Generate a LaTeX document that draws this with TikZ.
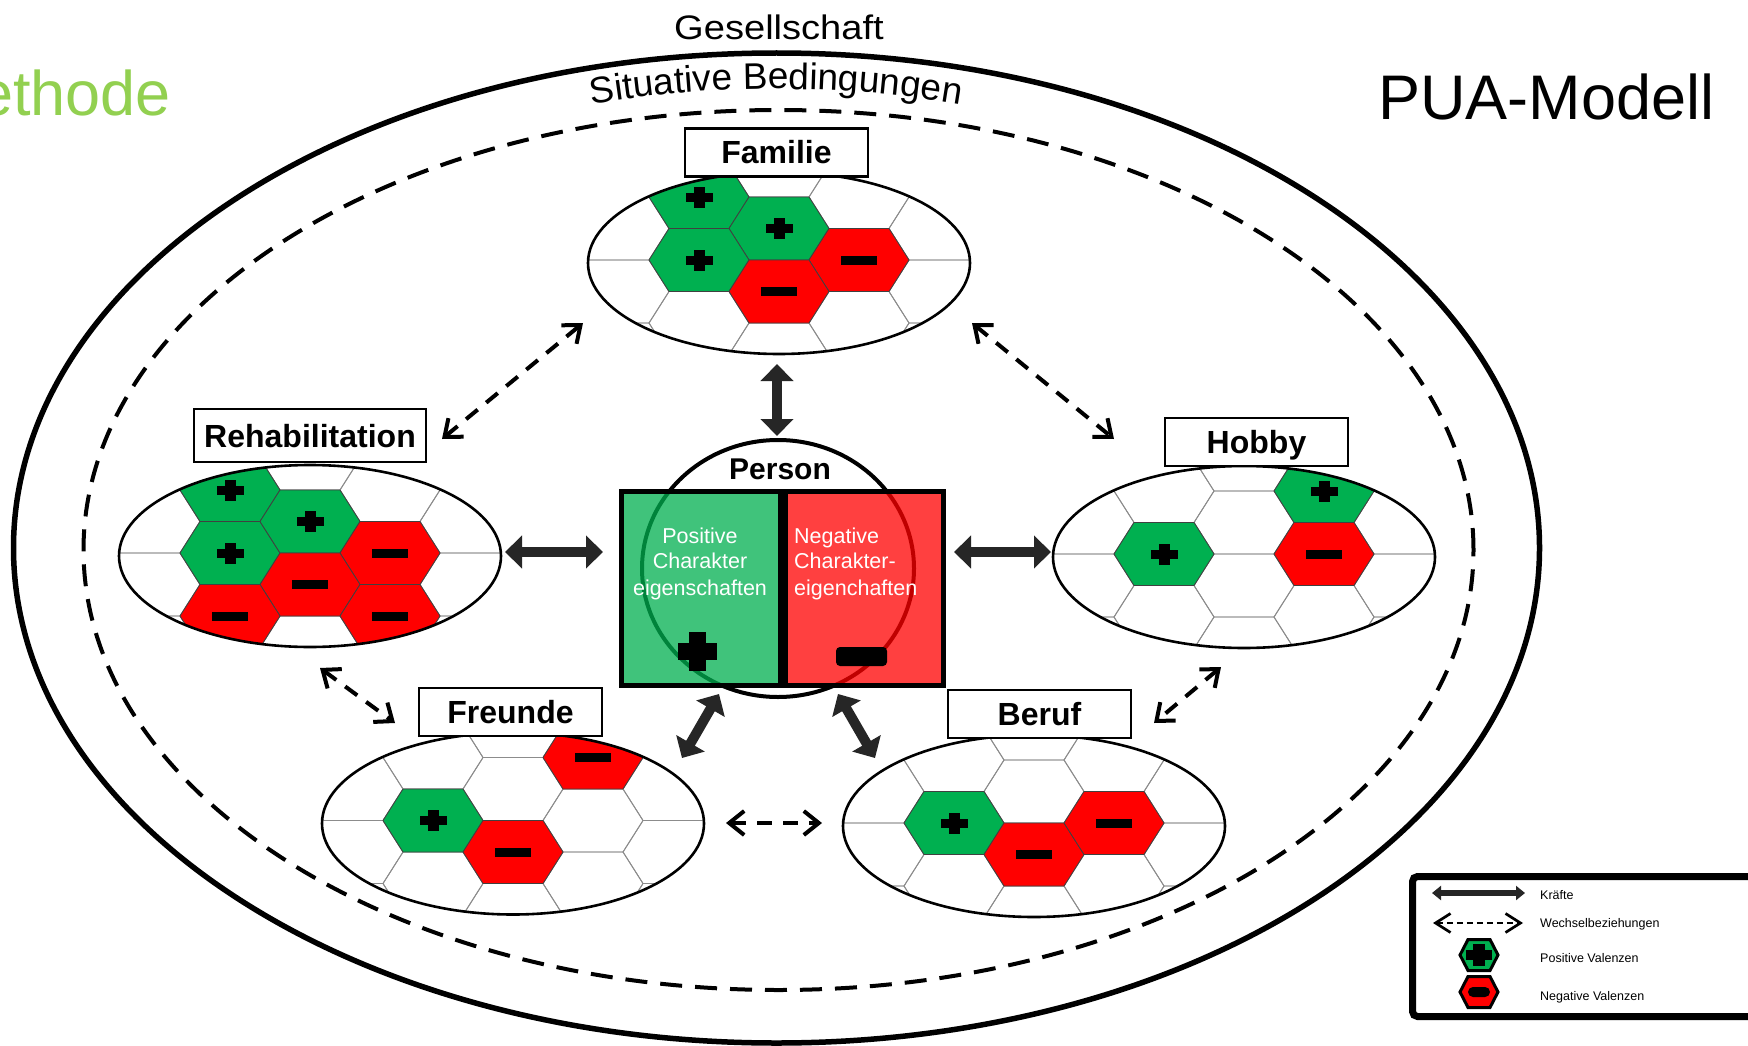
\documentclass[tikz,border=0pt]{standalone}
\usepackage{fontspec}
\setmainfont{Liberation Sans}
\usetikzlibrary{arrows.meta,decorations.text}
\definecolor{vgreen}{HTML}{00B050}
\definecolor{vred}{HTML}{FF0000}
\definecolor{mgreen}{HTML}{92D050}
\newcommand\fsz[1]{\fontsize{#1pt}{#1pt}\selectfont}
\tikzset{
  gridline/.style={draw=black!45, line width=0.9pt},
  hexedge/.style={draw=black!75, line width=0.8pt},
  ovalline/.style={draw=black, line width=2.6pt},
  labelbox/.style={draw=black, line width=2.4pt, fill=white, inner sep=0pt,
    minimum width=183pt, minimum height=48pt, font=\fsz{32}\bfseries,
    text height=23pt, text depth=0pt},
  force/.style={draw=black!85, line width=10pt,
    {Triangle[length=17pt,width=32pt]}-{Triangle[length=17pt,width=32pt]}},
  interact/.style={draw=black, line width=4pt, dash pattern=on 15pt off 11pt,
    {Straight Barb[length=15pt,width=24pt]}-{Straight Barb[length=15pt,width=24pt]}},
  legtext/.style={anchor=base west, inner sep=0pt, font=\fsz{12.5}},
  boxtext/.style={white, inner sep=0pt, font=\fsz{21.5}},
  gridhex/.pic={\path[gridline] (-50,0) -- (-30,31.5) -- (30,31.5) -- (50,0) -- (30,-31.5) -- (-30,-31.5) -- cycle;},
  phex/.pic={\filldraw[fill=vgreen, hexedge] (-50,0) -- (-30,31.5) -- (30,31.5) -- (50,0) -- (30,-31.5) -- (-30,-31.5) -- cycle;
    \fill[black] (-13.5,-4.5) rectangle (13.5,4.5);
    \fill[black] (-5.5,-10.5) rectangle (5.5,10.5);},
  nhex/.pic={\filldraw[fill=vred, hexedge] (-50,0) -- (-30,31.5) -- (30,31.5) -- (50,0) -- (30,-31.5) -- (-30,-31.5) -- cycle;
    \fill[black] (-18,-4.5) rectangle (18,4.5);},
}
\newcommand\valdiag[3]{%
  \begin{scope}[shift={(#1,-#2)}]
    \fill[white] (0,-3) ellipse [x radius=191, y radius=91];
    \begin{scope}
      \clip (0,-3) ellipse [x radius=191, y radius=91];
      \foreach \i in {-3,...,3}{
        \foreach \j in {-2,...,2}{
          \pgfmathsetmacro\hx{80*\i}
          \pgfmathsetmacro\hy{63*\j+31.5*(1-mod(abs(\i),2))}
          \pic at (\hx,\hy) {gridhex};
        }
      }
      #3
    \end{scope}
    \draw[ovalline] (0,-3) ellipse [x radius=191, y radius=91];
  \end{scope}}
\begin{document}
\begin{tikzpicture}[x=1pt,y=1pt]
\useasboundingbox (0,0) rectangle (1748,-1046);
\fill[white] (0,0) rectangle (1748,-1046);

% titles
\node[anchor=base east, inner sep=0pt, text=mgreen, font=\fsz{63}] (methode) at (171,-116) {Methode};
\node[anchor=base west, inner sep=0pt, font=\fsz{63}] (pua) at (1378,-120) {PUA-Modell};
\node[anchor=base, inner sep=0pt, font=\fsz{34}, xscale=1.12] (gesell) at (779,-39.5) {Gesellschaft};

% outer ellipses
\draw[line width=5.5pt] (776.5,-548) ellipse [x radius=763, y radius=495];
\draw[line width=4pt, dash pattern=on 22pt off 13pt] (778.5,-550) ellipse [x radius=695, y radius=440];
\path[decorate, decoration={text along path, text align=center,
   text={|\fsz{37}|Situative Bedingungen}}]
   (416,-150.6) arc [start angle=120, end angle=60, x radius=720, y radius=460];

% valence diagrams
\valdiag{779}{260}{%
  \pic at (-80,63) {phex}; \pic at (0,31.5) {phex}; \pic at (-80,0) {phex};
  \pic at (80,0) {nhex}; \pic at (0,-31.5) {nhex};}
\valdiag{310}{553}{%
  \pic at (-80,63) {phex}; \pic at (-80,0) {phex}; \pic at (0,31.5) {phex};
  \pic at (80,0) {nhex}; \pic at (0,-31.5) {nhex}; \pic at (-80,-63) {nhex}; \pic at (80,-63) {nhex};}
\valdiag{1244}{554}{%
  \pic at (-80,0) {phex}; \pic at (80,63) {phex}; \pic at (80,0) {nhex};}
\valdiag{513}{820.5}{%
  \pic at (-80,0) {phex}; \pic at (0,-31.5) {nhex}; \pic at (80,63) {nhex};}
\valdiag{1034}{823}{%
  \pic at (-80,0) {phex}; \pic at (0,-31.5) {nhex}; \pic at (80,0) {nhex};}

% label boxes
\node[labelbox] (familie) at (776.5,-152.5) {Familie};
\node[labelbox, minimum width=232pt, minimum height=53pt] (reha) at (310,-435.5) {Rehabilitation};
\node[labelbox] (hobby) at (1256.5,-442) {Hobby};
\node[labelbox] (freunde) at (510.5,-712) {Freunde};
\node[labelbox] (beruf) at (1039.5,-714) {Beruf};

% person
\draw[line width=4pt, fill=white] (778,-568.5) ellipse [x radius=136, y radius=128.5];
\draw[line width=5pt, fill=vgreen, fill opacity=0.75] (621.5,-491.5) rectangle (780,-685.5);
\draw[line width=5pt, fill=vred, fill opacity=0.75] (785,-491.5) rectangle (943.5,-685.5);
\node[anchor=base, inner sep=0pt, font=\fsz{30}\bfseries] (person) at (780,-479) {Person};
\node[boxtext, anchor=base] (pa) at (700,-543) {Positive};
\node[boxtext, anchor=base] (pb) at (700,-568) {Charakter};
\node[boxtext, anchor=base] (pc) at (700,-595) {eigenschaften};
\node[boxtext, anchor=base west] (na) at (794,-543) {Negative};
\node[boxtext, anchor=base west] (nb) at (794,-568) {Charakter-};
\node[boxtext, anchor=base west] (nc) at (794,-595) {eigenchaften};
\fill[black] (677.5,-659.5) rectangle (716.5,-642.5);
\fill[black] (688.5,-670.5) rectangle (705.5,-631.5);
\fill[black, rounded corners=4pt] (836,-647) rectangle (887,-666);

% force arrows
\coordinate (f1a) at (777,-364);  \coordinate (f1b) at (777,-436);
\coordinate (f2a) at (505,-552);  \coordinate (f2b) at (603,-552);
\coordinate (f3a) at (954,-552);  \coordinate (f3b) at (1051,-552);
\coordinate (f4a) at (719,-694);  \coordinate (f4b) at (682,-758);
\coordinate (f5a) at (838,-694);  \coordinate (f5b) at (875,-758);
\draw[force] (f1a) -- (f1b);
\draw[force] (f2a) -- (f2b);
\draw[force] (f3a) -- (f3b);
\draw[force] (f4a) -- (f4b);
\draw[force] (f5a) -- (f5b);

% interaction arrows
\coordinate (w1a) at (442,-439);  \coordinate (w1b) at (583,-323);
\coordinate (w2a) at (972,-323);  \coordinate (w2b) at (1114,-439);
\coordinate (w3a) at (320,-668);  \coordinate (w3b) at (395,-723);
\coordinate (w4a) at (726,-823);  \coordinate (w4b) at (822,-823);
\coordinate (w5a) at (1221,-667); \coordinate (w5b) at (1154,-723);
\draw[interact] (w1a) -- (w1b);
\draw[interact] (w2a) -- (w2b);
\draw[interact] (w3a) -- (w3b);
\draw[interact] (w4a) -- (w4b);
\draw[interact] (w5a) -- (w5b);

% legend
\draw[line width=7pt, rounded corners=5pt, fill=white] (1412.5,-876.5) rectangle (1790,-1016.5);
\coordinate (lk1) at (1432,-893); \coordinate (lk2) at (1525,-893);
\draw[draw=black!85, line width=6pt, {Triangle[length=9pt,width=14pt]}-{Triangle[length=9pt,width=14pt]}] (lk1) -- (lk2);
\coordinate (lw1) at (1433,-923); \coordinate (lw2) at (1523,-923);
\draw[line width=2.7pt, dash pattern=on 6pt off 4pt, {Straight Barb[length=15pt,width=19pt]}-{Straight Barb[length=15pt,width=19pt]}] (lw1) -- (lw2);
\begin{scope}[shift={(1479,-955)}]
  \filldraw[fill=vgreen, draw=black, line width=3pt] (-19,0) -- (-11,15.5) -- (11,15.5) -- (19,0) -- (11,-15.5) -- (-11,-15.5) -- cycle;
  \fill[black] (-13,-5) rectangle (13,5);
  \fill[black] (-6,-11) rectangle (6,11);
\end{scope}
\begin{scope}[shift={(1479,-992)}]
  \filldraw[fill=vred, draw=black, line width=3pt] (-19,0) -- (-11,15.5) -- (11,15.5) -- (19,0) -- (11,-15.5) -- (-11,-15.5) -- cycle;
  \fill[black, rounded corners=5pt] (-11,-5) rectangle (11,5);
\end{scope}
\node[legtext] (lt1) at (1540,-899) {Kräfte};
\node[legtext] (lt2) at (1540,-927.5) {Wechselbeziehungen};
\node[legtext] (lt3) at (1540,-962) {Positive Valenzen};
\node[legtext] (lt4) at (1540,-1000) {Negative Valenzen};
\end{tikzpicture}
\end{document}
